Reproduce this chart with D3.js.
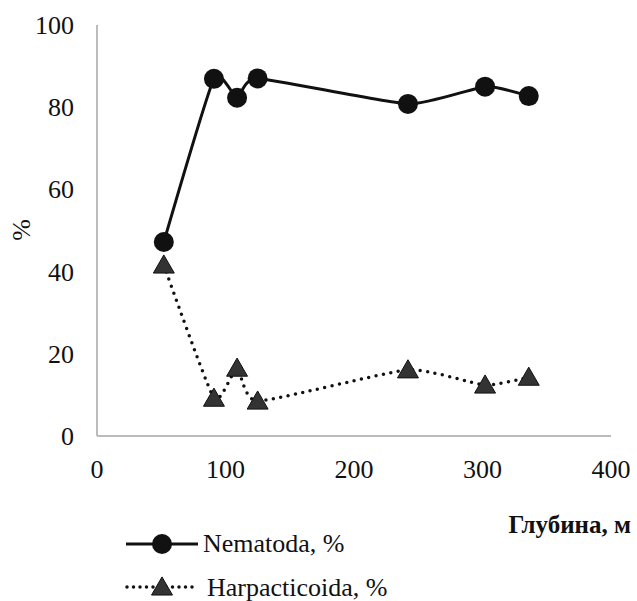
<!DOCTYPE html>
<html>
<head>
<meta charset="utf-8">
<script src="https://cdn.jsdelivr.net/npm/d3@7"></script>
<style>
  body { margin: 0; background: #fff; }
</style>
</head>
<body>
<div id="chart-area"></div>
<script>
// depth (m) and share (%)
const depth = [52, 91, 109, 125, 242, 302, 336];
const nematoda = [47.2, 86.9, 82.3, 87.0, 80.8, 85.0, 82.7];
const harpacticoida = [41.6, 9.2, 16.5, 8.5, 16.1, 12.4, 14.3];
const xTicks = [0, 100, 200, 300, 400];
const yTicks = [0, 20, 40, 60, 80, 100];
const seriesNames = ['Nematoda, %', 'Harpacticoida, %'];

const width = 637, height = 601;
const font = "'Liberation Serif', 'Times New Roman', 'DejaVu Serif', serif";
const svg = d3.select('#chart-area').append('svg')
  .attr('width', width).attr('height', height)
  .attr('font-family', font);

const x = d3.scaleLinear().domain([0, 400]).range([97, 611]);
const y = d3.scaleLinear().domain([0, 100]).range([436, 25]);

// axes: plain grey lines, no ticks
svg.append('line')
  .attr('x1', x(0)).attr('x2', x(0)).attr('y1', y(0)).attr('y2', y(100))
  .attr('stroke', '#bcbcbc').attr('stroke-width', 2);
svg.append('line')
  .attr('x1', x(0)).attr('x2', x(400)).attr('y1', y(0)).attr('y2', y(0))
  .attr('stroke', '#bcbcbc').attr('stroke-width', 2);

svg.selectAll('.ylab').data(yTicks).join('text')
  .attr('class', 'ylab')
  .attr('x', 74).attr('y', (d) => y(d) + 9)
  .attr('text-anchor', 'end').attr('font-size', 26)
  .attr('fill', '#111')
  .text((d) => d);

svg.selectAll('.xlab').data(xTicks).join('text')
  .attr('class', 'xlab')
  .attr('x', (d) => x(d)).attr('y', 478)
  .attr('text-anchor', 'middle').attr('font-size', 26)
  .attr('fill', '#111')
  .text((d) => d);

svg.append('text')
  .attr('transform', 'translate(30,230) rotate(-90)')
  .attr('text-anchor', 'middle').attr('font-size', 26)
  .attr('fill', '#111')
  .text('%');

svg.append('text')
  .attr('x', 631).attr('y', 533)
  .attr('text-anchor', 'end').attr('font-size', 25).attr('font-weight', 'bold')
  .attr('fill', '#111')
  .text('Глубина, м');

const line = d3.line().curve(d3.curveCardinal.tension(0.5))
  .x((d) => x(d[0])).y((d) => y(d[1]));

const nemPts = depth.map((d, i) => [d, nematoda[i]]);
const harPts = depth.map((d, i) => [d, harpacticoida[i]]);

svg.append('path').attr('d', line(harPts))
  .attr('fill', 'none').attr('stroke', '#111').attr('stroke-width', 3.5)
  .attr('stroke-linecap', 'round').attr('stroke-dasharray', '0 7.5');

svg.append('path').attr('d', line(nemPts))
  .attr('fill', 'none').attr('stroke', '#111').attr('stroke-width', 3);

const tri = d3.symbol().type(d3.symbolTriangle).size(190);

svg.selectAll('.tri').data(harPts).join('path')
  .attr('class', 'tri')
  .attr('d', tri)
  .attr('transform', (d) => `translate(${x(d[0])},${y(d[1]) + 2})`)
  .attr('fill', '#333').attr('stroke', '#111').attr('stroke-width', 1);

svg.selectAll('.dot').data(nemPts).join('circle')
  .attr('class', 'dot')
  .attr('cx', (d) => x(d[0])).attr('cy', (d) => y(d[1]))
  .attr('r', 10).attr('fill', '#111');

// legend
const lg = svg.append('g');
lg.append('line').attr('x1', 126).attr('x2', 198).attr('y1', 544).attr('y2', 544)
  .attr('stroke', '#111').attr('stroke-width', 3);
lg.append('circle').attr('cx', 162).attr('cy', 544).attr('r', 10).attr('fill', '#111');
lg.append('text').attr('x', 203).attr('y', 552).attr('font-size', 26)
  .attr('fill', '#111').text(seriesNames[0]);

lg.append('line').attr('x1', 127).attr('x2', 198).attr('y1', 587).attr('y2', 587)
  .attr('stroke', '#111').attr('stroke-width', 3.5)
  .attr('stroke-linecap', 'round').attr('stroke-dasharray', '0 6.5');
lg.append('path').attr('d', tri).attr('transform', 'translate(162,589)')
  .attr('fill', '#333').attr('stroke', '#111').attr('stroke-width', 1);
lg.append('text').attr('x', 207).attr('y', 596).attr('font-size', 26)
  .attr('fill', '#111').text(seriesNames[1]);
</script>
</body>
</html>
